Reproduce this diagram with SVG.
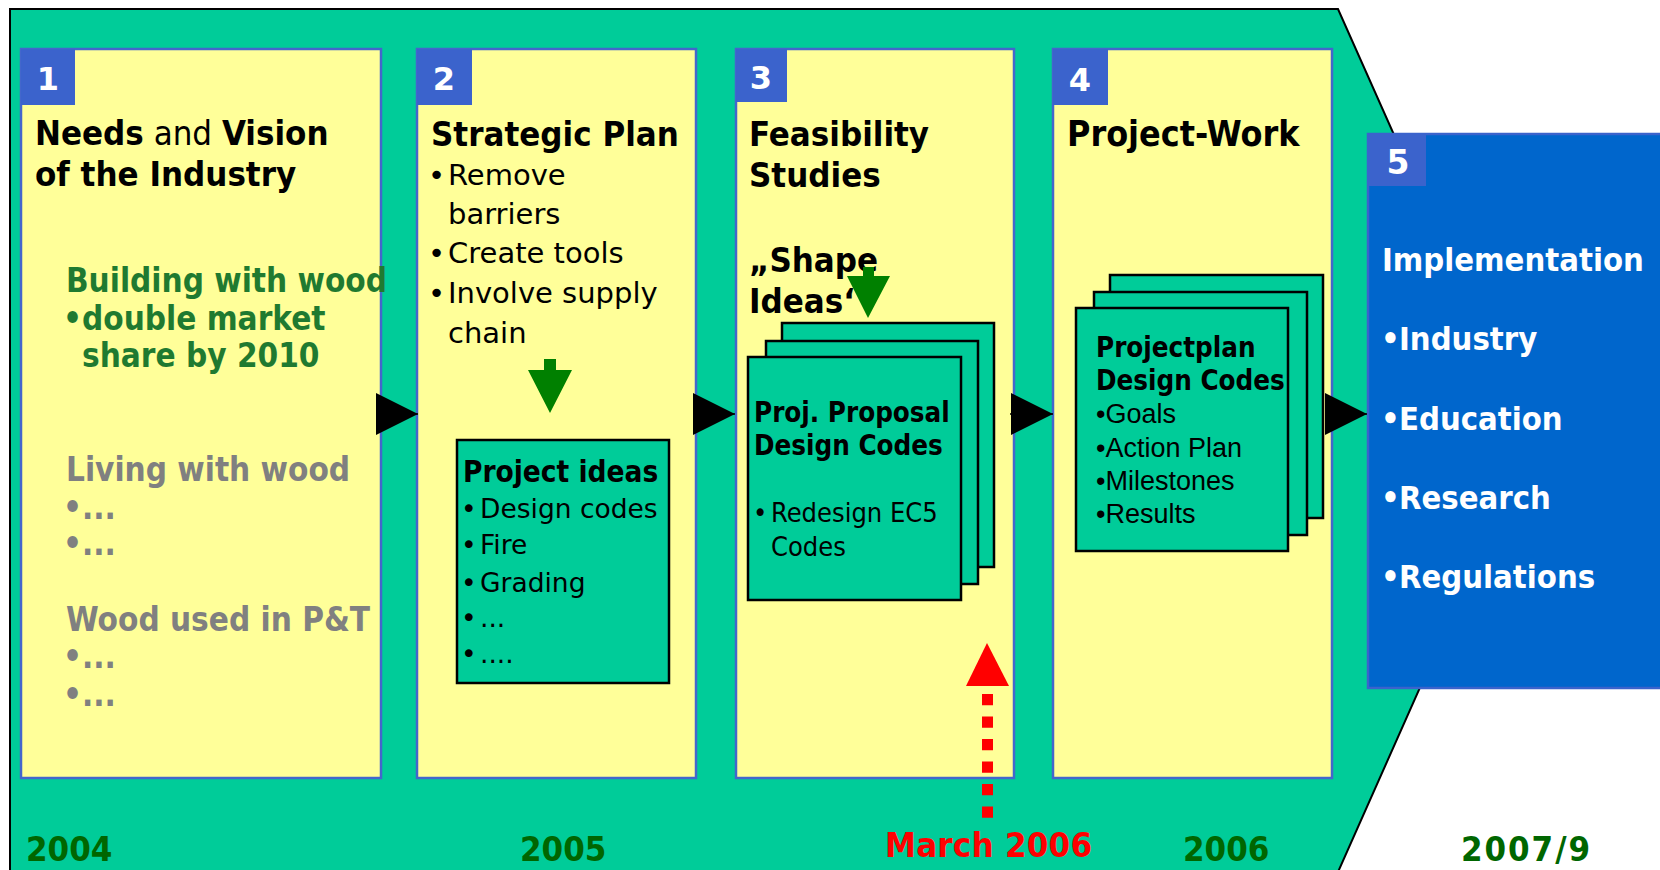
<svg xmlns="http://www.w3.org/2000/svg" width="1660" height="870" viewBox="0 0 1660 870">
<defs>
<style>
.box{fill:#FFFF99;stroke:#4466CC;stroke-width:2.5}
.tab{fill:#3B63CC}
.num{font-family:"DejaVu Sans",sans-serif;font-weight:bold;fill:#fff;text-anchor:middle}
.tb{font-family:"DejaVu Sans Condensed","DejaVu Sans",sans-serif;font-weight:bold;fill:#000}
.tr{font-family:"DejaVu Sans",sans-serif;fill:#000}
.trc{font-family:"DejaVu Sans Condensed","DejaVu Sans",sans-serif;fill:#000}
.ta{font-family:"Liberation Sans",Arial,sans-serif;fill:#000}
.card{fill:#00CC99;stroke:#000;stroke-width:2.5}
.yr{font-family:"DejaVu Sans Condensed","DejaVu Sans",sans-serif;font-weight:bold;font-size:34.5px;fill:#006600}
.wb{font-family:"DejaVu Sans Condensed","DejaVu Sans",sans-serif;font-weight:bold;font-size:32.5px;fill:#fff}
</style>
<marker id="tri" markerUnits="userSpaceOnUse" markerWidth="42" markerHeight="42" refX="42" refY="21" orient="auto" viewBox="0 0 42 42">
<path d="M0,0 L42,21 L0,42 z" fill="#000"/>
</marker>
</defs>

<polygon id="background" points="10,9 1338,9 1530,440 1338,872 10,872" fill="#00CC99" stroke="#000" stroke-width="2"/>

<g id="node1">
<rect class="box" x="21" y="49" width="360" height="729"/>
<rect class="tab" x="21" y="49" width="54" height="56"/>
<text class="num" x="48" y="90" font-size="32">1</text>
<text class="tb" x="35" y="145" font-size="34.5"><tspan>Needs</tspan><tspan font-weight="normal"> and </tspan><tspan>Vision</tspan></text>
<text class="tb" x="35" y="186" font-size="34.5">of the Industry</text>
<g class="tb" font-size="33" style="fill:#1F7A30">
<text x="66" y="292">Building with wood</text>
<text y="330"><tspan x="63">•</tspan><tspan x="82">double market</tspan></text>
<text x="82" y="367">share by 2010</text>
</g>
<g class="tb" font-size="33" style="fill:#808080">
<text x="66" y="481">Living with wood</text>
<text y="519"><tspan x="63">•</tspan><tspan x="82">...</tspan></text>
<text y="555"><tspan x="63">•</tspan><tspan x="82">...</tspan></text>
<text x="66" y="631">Wood used in P&amp;T</text>
<text y="668"><tspan x="63">•</tspan><tspan x="82">...</tspan></text>
<text y="706"><tspan x="63">•</tspan><tspan x="82">...</tspan></text>
</g>
</g>

<g id="node2">
<rect class="box" x="417" y="49" width="279" height="729"/>
<rect class="tab" x="417" y="49" width="55" height="56"/>
<text class="num" x="444" y="90" font-size="32">2</text>
<text class="tb" x="431" y="146" font-size="34.5">Strategic Plan</text>
<g class="tr" font-size="29">
<text y="185"><tspan x="428">•</tspan><tspan x="448">Remove</tspan></text>
<text x="448" y="224">barriers</text>
<text y="263"><tspan x="428">•</tspan><tspan x="448">Create tools</tspan></text>
<text y="303"><tspan x="428">•</tspan><tspan x="448">Involve supply</tspan></text>
<text x="448" y="343">chain</text>
</g>
</g>

<g id="node2-ideas">
<rect class="card" x="457" y="440" width="212" height="243"/>
<text class="tb" x="463" y="482" font-size="29.5">Project ideas</text>
<g class="tr" font-size="26.5">
<text y="518"><tspan x="461">•</tspan><tspan x="480">Design codes</tspan></text>
<text y="554"><tspan x="461">•</tspan><tspan x="480">Fire</tspan></text>
<text y="592"><tspan x="461">•</tspan><tspan x="480">Grading</tspan></text>
<text y="627"><tspan x="461">•</tspan><tspan x="480">...</tspan></text>
<text y="663"><tspan x="461">•</tspan><tspan x="480">....</tspan></text>
</g>
</g>

<g id="node3">
<rect class="box" x="736" y="49" width="278" height="729"/>
<rect class="tab" x="736" y="49" width="51" height="53"/>
<text class="num" x="761" y="89" font-size="32">3</text>
<text class="tb" x="749" y="146" font-size="34.5">Feasibility</text>
<text class="tb" x="749" y="187" font-size="34.5">Studies</text>
<text class="tb" x="749" y="272" font-size="34.5">„Shape</text>
<text class="tb" x="749" y="313" font-size="34.5">Ideas‘</text>
</g>

<g id="node3-proposal">
<rect class="card" x="782" y="323" width="212" height="244"/>
<rect class="card" x="766" y="341" width="212" height="243"/>
<rect class="card" x="748" y="357" width="213" height="243"/>
<text class="tb" x="754" y="422" font-size="27.5">Proj. Proposal</text>
<text class="tb" x="754" y="455" font-size="27.5">Design Codes</text>
<text class="trc" y="522" font-size="27"><tspan x="753">•</tspan><tspan x="771">Redesign EC5</tspan></text>
<text class="trc" x="771" y="556" font-size="27">Codes</text>
</g>

<g id="node4">
<rect class="box" x="1053" y="49" width="279" height="729"/>
<rect class="tab" x="1053" y="49" width="55" height="56"/>
<text class="num" x="1080" y="91" font-size="32">4</text>
<text class="tb" x="1067" y="146" font-size="35.5">Project-Work</text>
</g>

<g id="node4-plan">
<rect class="card" x="1110" y="275" width="213" height="243"/>
<rect class="card" x="1094" y="292" width="213" height="243"/>
<rect class="card" x="1076" y="308" width="212" height="243"/>
<text class="tb" x="1096" y="357" font-size="27.5">Projectplan</text>
<text class="tb" x="1096" y="390" font-size="27.5">Design Codes</text>
<g class="ta" font-size="27">
<text x="1096" y="423">•Goals</text>
<text x="1096" y="457">•Action Plan</text>
<text x="1096" y="490">•Milestones</text>
<text x="1096" y="523">•Results</text>
</g>
</g>

<g id="node5">
<rect x="1368" y="134" width="300" height="554" fill="#0066CC" stroke="#3B63CC" stroke-width="2.5"/>
<rect class="tab" x="1368" y="134" width="58" height="52"/>
<text class="num" x="1398" y="174" font-size="33">5</text>
<text class="wb" x="1382" y="271">Implementation</text>
<text class="wb" y="350"><tspan x="1381">•</tspan><tspan x="1399">Industry</tspan></text>
<text class="wb" y="430"><tspan x="1381">•</tspan><tspan x="1399">Education</tspan></text>
<text class="wb" y="509"><tspan x="1381">•</tspan><tspan x="1399">Research</tspan></text>
<text class="wb" y="588"><tspan x="1381">•</tspan><tspan x="1399">Regulations</tspan></text>
</g>

<g id="years">
<text class="yr" x="26" y="861">2004</text>
<text class="yr" x="520" y="861">2005</text>
<text class="yr" x="1183" y="861">2006</text>
<text class="yr" x="1461" y="861" textLength="129" lengthAdjust="spacing">2007/9</text>
<text class="yr" x="885" y="857" style="fill:#FF0000" textLength="207" lengthAdjust="spacing">March 2006</text>
</g>

<g id="connectors">
<line x1="376" y1="414" x2="418" y2="414" stroke="#000" stroke-width="1.5" marker-end="url(#tri)"/>
<line x1="693" y1="414" x2="735" y2="414" stroke="#000" stroke-width="1.5" marker-end="url(#tri)"/>
<line x1="1010" y1="414" x2="1053" y2="414" stroke="#000" stroke-width="1.5" marker-end="url(#tri)"/>
<line x1="1325" y1="414" x2="1367" y2="414" stroke="#000" stroke-width="1.5" marker-end="url(#tri)"/>
<polygon points="544,359 556,359 556,370 572,370 550,413 528,370 544,370" fill="#008000"/>
<polygon points="863,267 874,267 874,276 890,276 868,318 847,276 863,276" fill="#008000"/>
<line x1="987.5" y1="694" x2="987.5" y2="818" stroke="#FF0000" stroke-width="11" stroke-dasharray="11.3 11.2"/>
<polygon points="987,643 1009,686 966,686" fill="#FF0000"/>
</g>
</svg>
